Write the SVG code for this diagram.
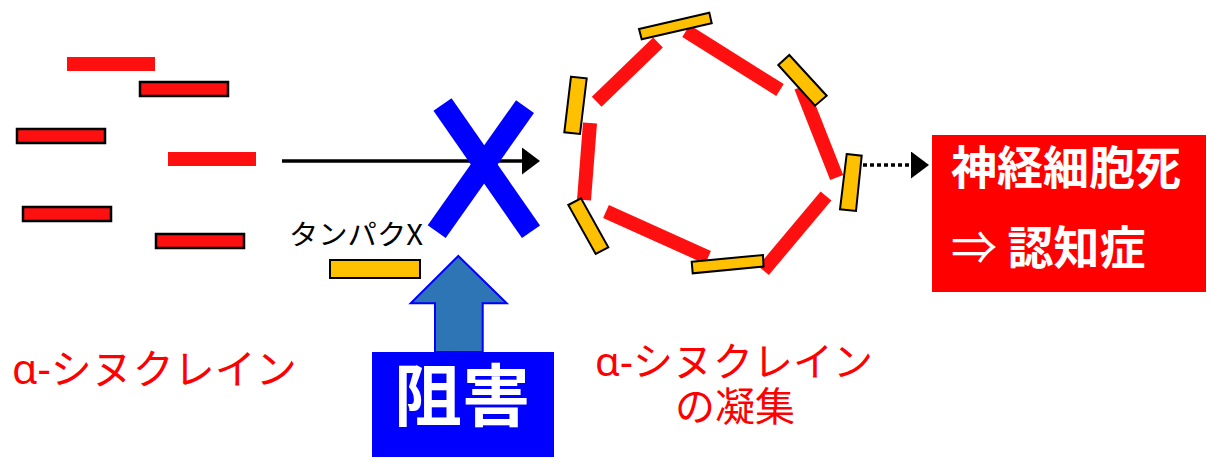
<svg xmlns="http://www.w3.org/2000/svg" width="1213" height="461" viewBox="0 0 1213 461">
<style>
.rb{fill:#FF1010;}
.rbs{fill:#FF1010;stroke:#000;stroke-width:2.5;}
.yb{fill:#FFC000;stroke:#000;stroke-width:2;}
.rl{stroke:#FF1010;stroke-width:14;fill:none;}
.jp{font-family:"Noto Sans CJK JP","Noto Sans",sans-serif;}
.red{fill:#FF0000;}
.wb{fill:#FFFFFF;font-weight:bold;}
</style>
<defs>
<marker id="ah" markerUnits="userSpaceOnUse" markerWidth="19" markerHeight="28" refX="0" refY="13.5" orient="auto">
<path d="M0,0 L18,13.5 L0,27 z" fill="#000"/>
</marker>
</defs>
<rect width="1213" height="461" fill="#FFFFFF"/>

<g id="monomers">
<rect class="rb" x="67" y="57" width="88" height="14"/>
<rect class="rbs" x="140" y="82" width="88" height="14"/>
<rect class="rbs" x="17" y="129" width="88" height="14"/>
<rect class="rb" x="168" y="152" width="88" height="14"/>
<rect class="rbs" x="23" y="207" width="88" height="14"/>
<rect class="rbs" x="156" y="234" width="88" height="14"/>
</g>

<g id="connectors">
<line x1="282" y1="161" x2="522" y2="161" stroke="#000" stroke-width="3.5" marker-end="url(#ah)"/>
<line x1="863" y1="165" x2="911" y2="165" stroke="#000" stroke-width="3.5" stroke-dasharray="4 3" marker-end="url(#ah)"/>
</g>

<g id="block-x">
<line x1="442.5" y1="104.5" x2="531" y2="231.7" stroke="#0000FF" stroke-width="22"/>
<line x1="525" y1="106.7" x2="436.7" y2="231.7" stroke="#0000FF" stroke-width="22"/>
</g>

<g id="protein-x">
<text class="jp" x="289" y="245" font-size="28" textLength="134" lengthAdjust="spacingAndGlyphs" fill="#000">タンパクX</text>
<rect class="yb" x="330" y="260" width="90" height="18"/>
</g>

<g id="aggregate">
<line class="rl" x1="596.7" y1="101.7" x2="658" y2="42.5"/>
<line class="rl" x1="686" y1="31" x2="780" y2="90"/>
<line class="rl" x1="801" y1="87" x2="836.7" y2="177.5"/>
<line class="rl" x1="826" y1="196" x2="763.5" y2="270.5"/>
<line class="rl" x1="606" y1="211.5" x2="708" y2="257.5"/>
<line class="rl" x1="590" y1="123" x2="584" y2="200" stroke-width="15"/>
<polygon class="yb" points="639,29 709.3,12.7 711.7,23.3 641.7,39.3"/>
<polygon class="yb" points="778.3,65 789.3,55 826.7,95.7 815,105.7"/>
<polygon class="yb" points="846.7,154 861.7,155.7 856,211 840,209.3"/>
<polygon class="yb" points="691.7,261.7 763,255 763.5,266.5 692.7,273.3"/>
<polygon class="yb" points="568.3,205 581,198.3 608.3,247.3 595.7,254"/>
<polygon class="yb" points="571,76.7 586.7,78.3 580,134 564.3,132.3"/>
</g>

<g id="inhibit">
<polygon points="458.3,256 506.7,303.3 482.7,303.3 482.7,352 435,352 435,303.3 410.7,303.3" fill="#2E75B6" stroke="#0000FF" stroke-width="2"/>
<rect x="372" y="352" width="182" height="105" fill="#0000FF"/>
<text class="jp wb" x="462" y="421" font-size="68" text-anchor="middle">阻害</text>
</g>

<g id="result">
<rect x="932" y="135" width="274" height="157" fill="#FF0000"/>
<text class="jp wb" x="951" y="184" font-size="46">神経細胞死</text>
<text class="jp wb" x="951" y="264" font-size="46"><tspan font-weight="normal">⇒</tspan> 認知症</text>
</g>

<g id="labels">
<text class="jp red" x="12" y="384" font-size="41"><tspan font-family="Noto Sans, sans-serif">α-</tspan>シヌクレイン</text>
<text class="jp red" font-size="40" text-anchor="middle"><tspan x="734" y="376"><tspan font-family="Noto Sans, sans-serif">α-</tspan>シヌクレイン</tspan><tspan x="735" y="421">の凝集</tspan></text>
</g>
</svg>
